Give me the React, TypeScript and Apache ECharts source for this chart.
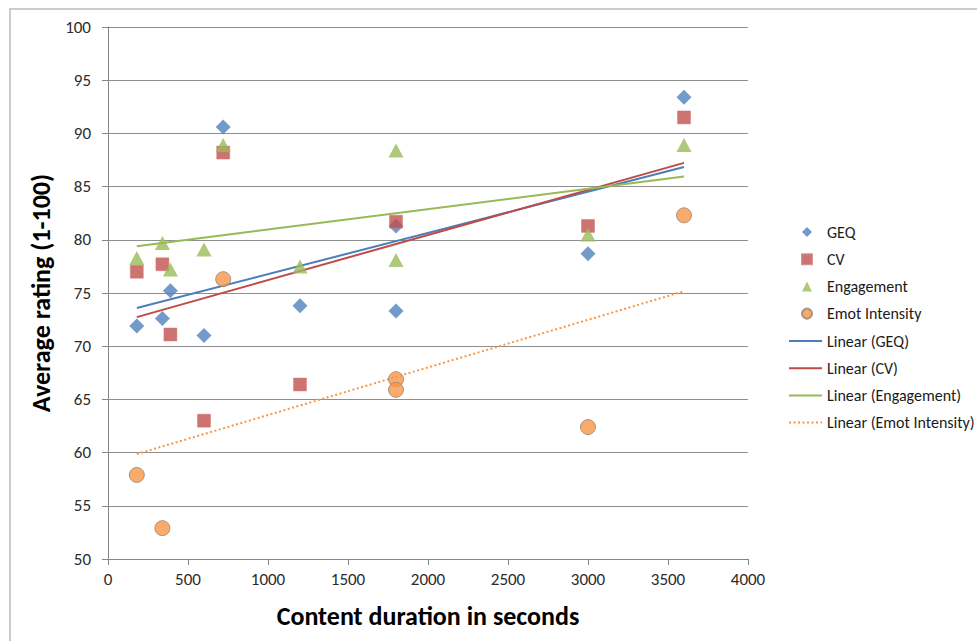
import React, { useEffect, useRef } from "react";
import * as echarts from "echarts";

const xTicks = { min: 0, max: 4000, interval: 500 };
const yTicks = { min: 50, max: 100, interval: 5 };

const geqX = [180, 340, 390, 600, 720, 1200, 1800, 1800, 3000, 3600];
const geqY = [71.9, 72.6, 75.2, 71.0, 90.6, 73.8, 73.3, 81.3, 78.7, 93.4];
const cvX = [180, 340, 390, 600, 720, 1200, 1800, 3000, 3600];
const cvY = [77.0, 77.7, 71.1, 63.0, 88.2, 66.4, 81.7, 81.3, 91.5];
const engX = [180, 340, 390, 600, 720, 1200, 1800, 1800, 3000, 3600];
const engY = [78.3, 79.7, 77.2, 79.1, 88.9, 77.5, 88.4, 78.1, 80.5, 88.9];
const emoX = [180, 340, 720, 1800, 1800, 3000, 3600];
const emoY = [57.9, 52.9, 76.3, 66.9, 65.9, 62.4, 82.3];

const seriesNames = ["GEQ", "CV", "Engagement", "Emot Intensity"];
const trendNames = ["Linear (GEQ)", "Linear (CV)", "Linear (Engagement)", "Linear (Emot Intensity)"];

const FONT = "Carlito, Lato, sans-serif";

function zip(xs: number[], ys: number[]) {
  return xs.map((x, i) => [x, ys[i]]);
}

function trend(xs: number[], ys: number[]) {
  const n = xs.length;
  const mx = xs.reduce((a, b) => a + b, 0) / n;
  const my = ys.reduce((a, b) => a + b, 0) / n;
  let sxy = 0;
  let sxx = 0;
  for (let i = 0; i < n; i++) {
    sxy += (xs[i] - mx) * (ys[i] - my);
    sxx += (xs[i] - mx) * (xs[i] - mx);
  }
  const b = sxy / sxx;
  const a = my - b * mx;
  const x0 = Math.min(...xs);
  const x1 = Math.max(...xs);
  return [
    [x0, a + b * x0],
    [x1, a + b * x1],
  ];
}

export default function App() {
  const ref = useRef<HTMLDivElement>(null);
  useEffect(() => {
    if (!ref.current) return;
    const chart = echarts.init(ref.current, undefined, { renderer: "svg" });
    const blue = "#4F81BD";
    const red = "#C0504D";
    const green = "#9BBB59";
    const orange = "#F79646";
    const legendText = { fontFamily: FONT, fontSize: 16, color: "#1a1a1a", lineHeight: 16 };
    const option: any = {
      animation: false,
      backgroundColor: "#ffffff",
      grid: { left: 108, top: 27, width: 640, height: 532 },
      graphic: [
        {
          type: "rect",
          shape: { x: 10, y: 9, width: 990, height: 660 },
          style: { fill: "none", stroke: "#bcbcbc", lineWidth: 1.5 },
          silent: true,
        },
      ],
      legend: [
        {
          orient: "vertical",
          left: 801,
          top: 224,
          padding: 0,
          itemWidth: 10,
          itemHeight: 10,
          itemGap: 11.2,
          data: seriesNames,
          textStyle: { ...legendText, padding: [0, 0, 0, 10] },
        },
        {
          orient: "vertical",
          left: 788,
          top: 333,
          padding: 0,
          itemWidth: 33,
          itemHeight: 10,
          itemGap: 11.2,
          data: trendNames,
          itemStyle: { opacity: 0 },
          textStyle: legendText,
        },
      ],
      xAxis: {
        type: "value",
        min: xTicks.min,
        max: xTicks.max,
        interval: xTicks.interval,
        name: "Content duration in seconds",
        nameLocation: "middle",
        nameGap: 44,
        nameTextStyle: { fontFamily: FONT, fontSize: 26, fontWeight: "bold", color: "#000" },
        axisLine: { show: true, lineStyle: { color: "#868686", width: 1 } },
        axisTick: { show: true, inside: false, length: 6, lineStyle: { color: "#868686" } },
        axisLabel: {
          fontFamily: FONT,
          fontSize: 17,
          color: "#2b2b2b",
          margin: 12,
          formatter: (v: number) => String(v),
        },
        splitLine: { show: false },
      },
      yAxis: {
        type: "value",
        min: yTicks.min,
        max: yTicks.max,
        interval: yTicks.interval,
        name: "Average rating (1-100)",
        nameLocation: "middle",
        nameGap: 48,
        nameTextStyle: { fontFamily: FONT, fontSize: 26, fontWeight: "bold", color: "#000" },
        axisLine: { show: true, lineStyle: { color: "#868686", width: 1 } },
        axisTick: { show: true, inside: false, length: 6, lineStyle: { color: "#868686" } },
        axisLabel: {
          fontFamily: FONT,
          fontSize: 17,
          color: "#2b2b2b",
          margin: 17,
          formatter: (v: number) => String(v),
        },
        splitLine: { show: true, lineStyle: { color: "#8f8f8f", width: 1 } },
      },
      series: [
        {
          name: "GEQ",
          type: "scatter",
          symbol: "diamond",
          symbolSize: 15,
          itemStyle: { color: blue },
          data: zip(geqX, geqY),
          z: 3,
        },
        {
          name: "CV",
          type: "scatter",
          symbol: "rect",
          symbolSize: 13,
          itemStyle: { color: red, borderColor: "#d07a78", borderWidth: 0.6 },
          data: zip(cvX, cvY),
          z: 3,
        },
        {
          name: "Engagement",
          type: "scatter",
          symbol: "triangle",
          symbolSize: [15, 14],
          itemStyle: { color: green },
          data: zip(engX, engY),
          z: 3,
        },
        {
          name: "Emot Intensity",
          type: "scatter",
          symbol: "circle",
          symbolSize: 15,
          itemStyle: { color: orange, borderColor: "#9a8474", borderWidth: 1 },
          data: zip(emoX, emoY),
          z: 3,
        },
        {
          name: "Linear (GEQ)",
          type: "line",
          symbol: "none",
          lineStyle: { color: "#4A7EBB", width: 2 },
          itemStyle: { color: "#4A7EBB" },
          data: trend(geqX, geqY),
          z: 2,
        },
        {
          name: "Linear (CV)",
          type: "line",
          symbol: "none",
          lineStyle: { color: "#BE4B48", width: 2 },
          itemStyle: { color: "#BE4B48" },
          data: trend(cvX, cvY),
          z: 2,
        },
        {
          name: "Linear (Engagement)",
          type: "line",
          symbol: "none",
          lineStyle: { color: "#98B954", width: 2 },
          itemStyle: { color: "#98B954" },
          data: trend(engX, engY),
          z: 2,
        },
        {
          name: "Linear (Emot Intensity)",
          type: "line",
          symbol: "none",
          lineStyle: { color: orange, width: 2, type: [2, 2.5] },
          itemStyle: { color: orange },
          data: trend(emoX, emoY),
          z: 2,
        },
      ],
    };
    chart.setOption(option);
    return () => chart.dispose();
  }, []);
  return (
    <div
      ref={ref}
      style={{ position: "fixed", left: 0, top: 0, width: 977, height: 641, background: "#fff" }}
    />
  );
}
